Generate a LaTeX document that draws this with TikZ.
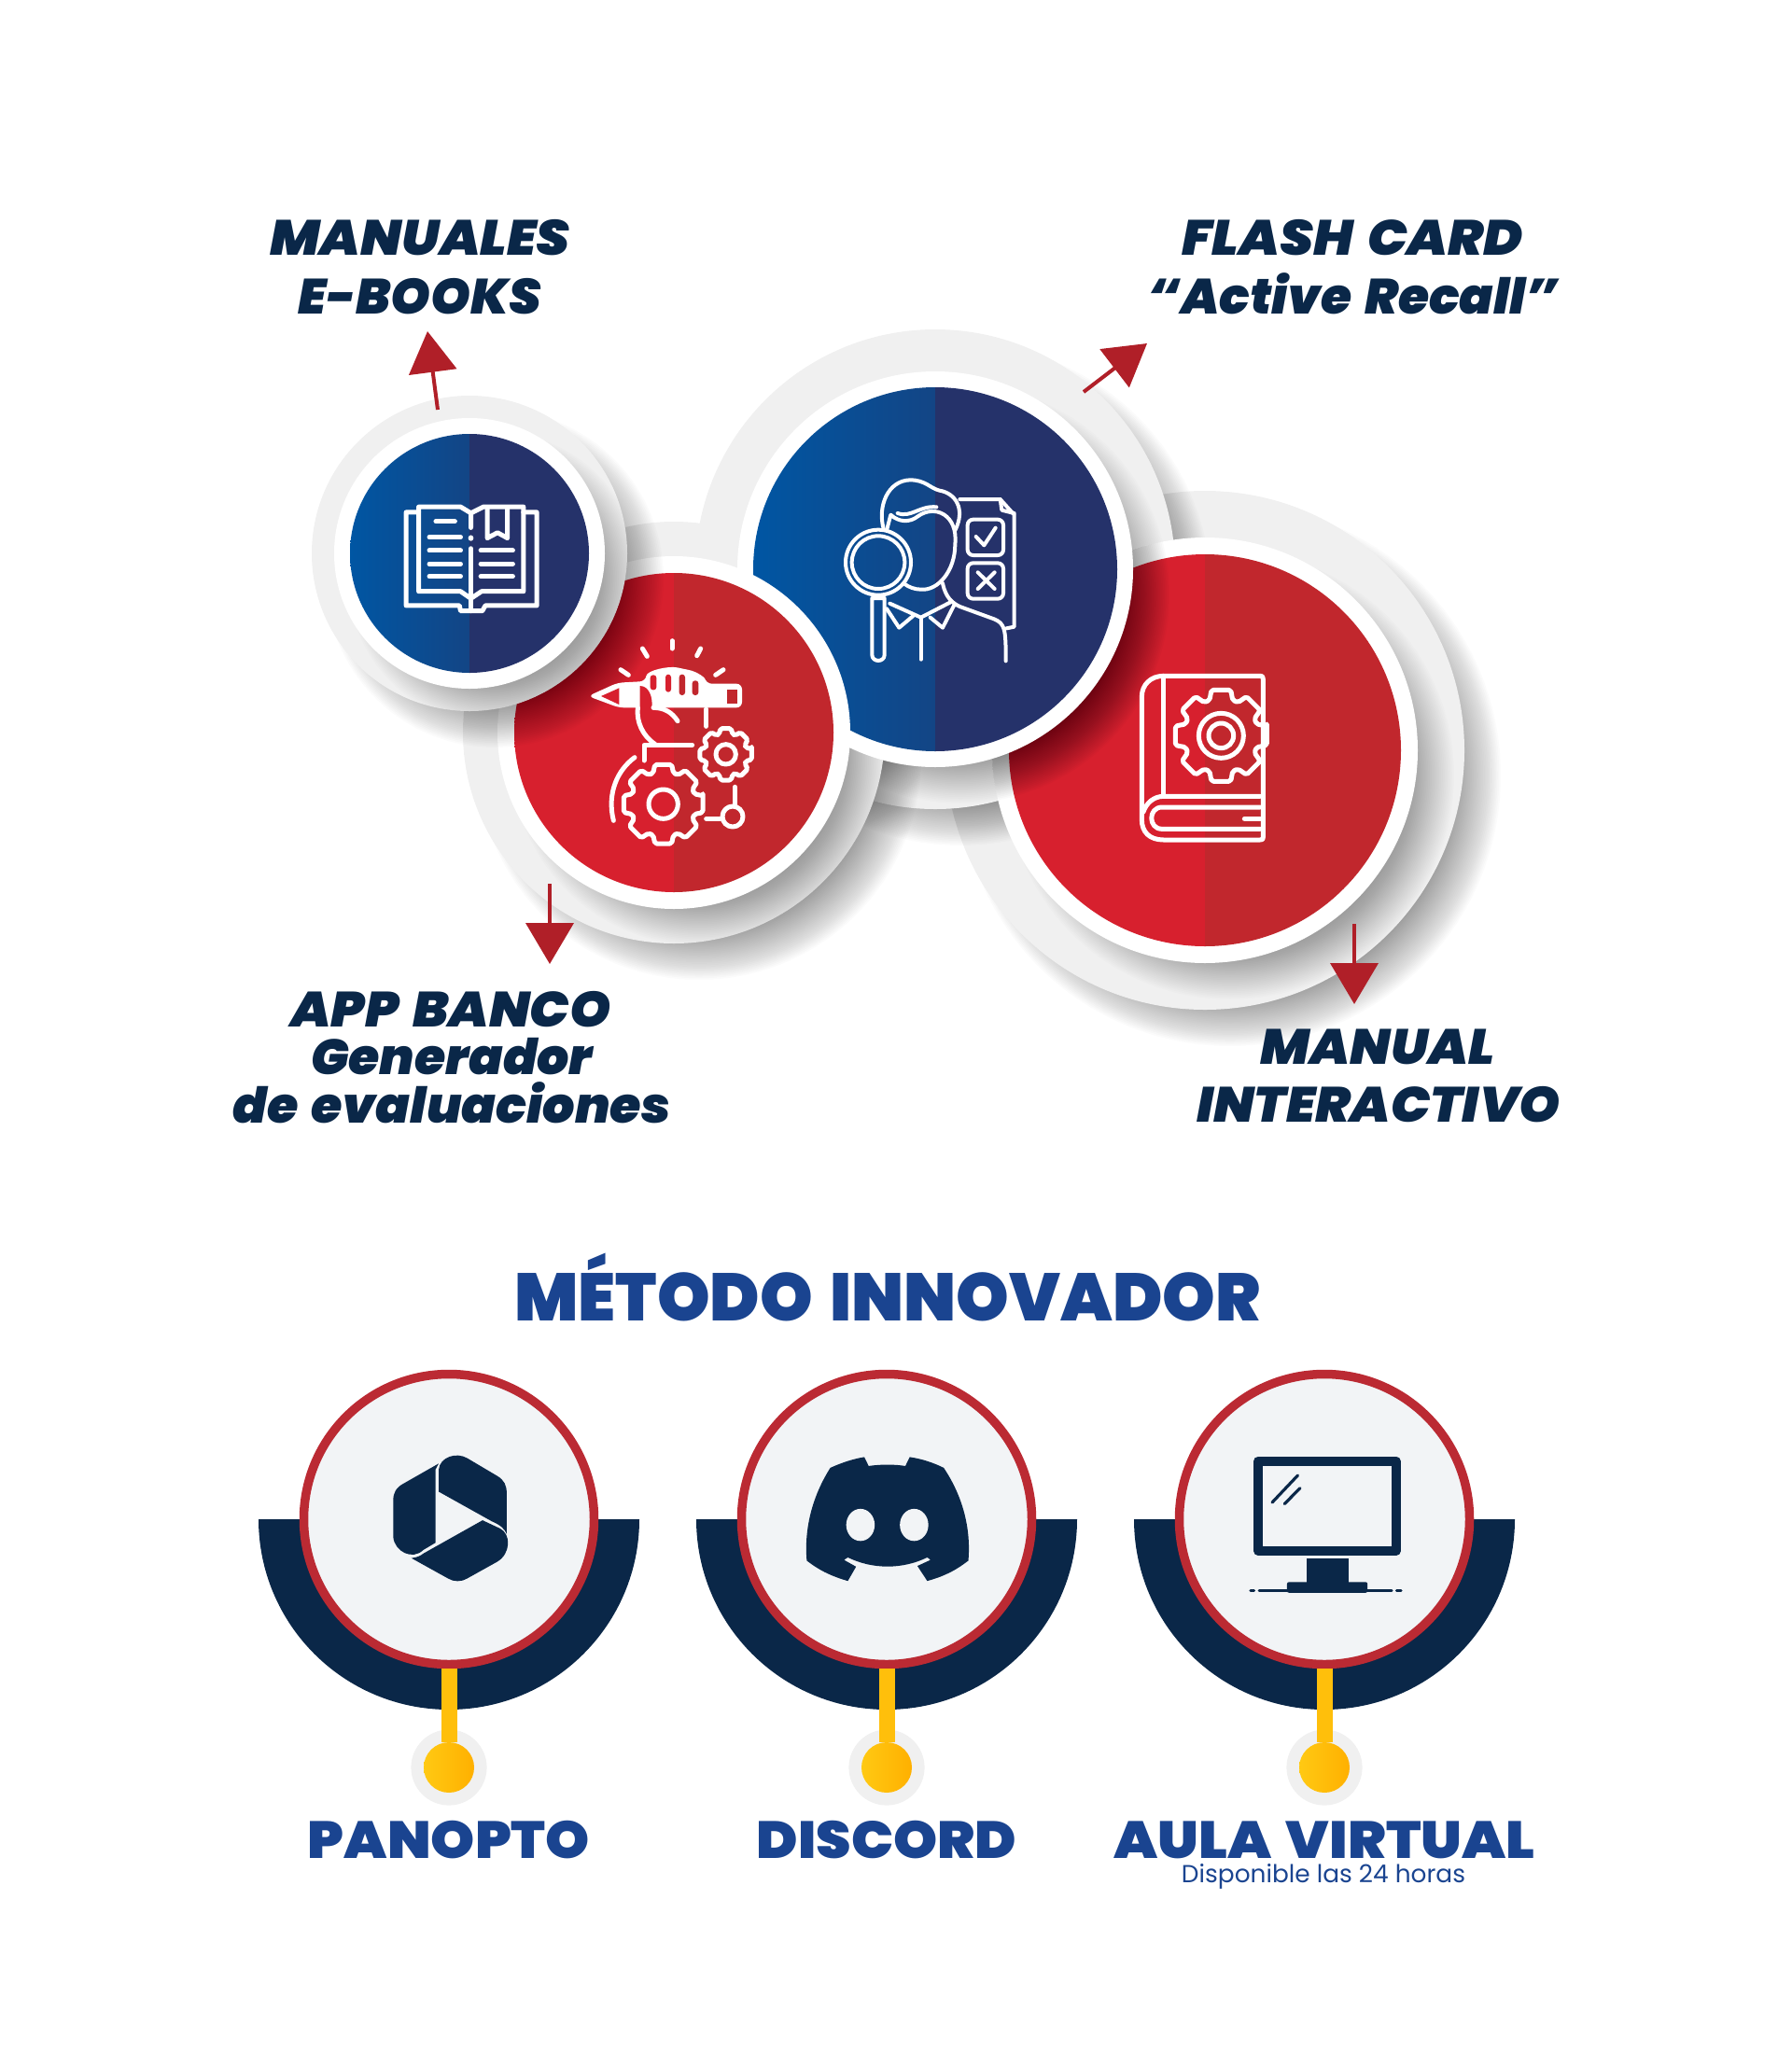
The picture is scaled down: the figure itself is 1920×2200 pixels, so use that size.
\documentclass[tikz,border=0pt]{standalone}
\usepackage{fontspec}
\usetikzlibrary{arrows.meta}
\newfontfamily\blackfont{Poppins}[UprightFont={* Black},ItalicFont={* Black Italic},WordSpace=1.5]
\newfontfamily\plainfont{Poppins}
\definecolor{navy}{HTML}{0A2748}
\definecolor{headblue}{HTML}{1A4490}
\definecolor{arrowred}{HTML}{B01F28}
\definecolor{ringred}{HTML}{BB2A33}
\definecolor{ringgrey}{HTML}{F0F0F0}
\definecolor{lensgrey}{HTML}{F2F4F6}
\definecolor{redleft}{HTML}{D7202E}
\definecolor{redright}{HTML}{C1272D}
\definecolor{blueleft}{HTML}{0056A3}
\definecolor{bluemid}{HTML}{134585}
\definecolor{blueright}{HTML}{25326A}
\definecolor{goldleft}{HTML}{FFC913}
\definecolor{goldright}{HTML}{FFB000}
\definecolor{goldstem}{HTML}{FFBF0B}
\tikzset{
  toplabel/.style={anchor=base,text=navy,font=\blackfont\itshape\fontsize{26.5}{30}\selectfont},
  toollabel/.style={anchor=base,text=headblue,font=\blackfont\fontsize{28}{32}\selectfont},
  redarrow/.style={draw=arrowred,line width=2pt,-{Triangle[length=22pt,width=25.5pt]}},
  iconline/.style={draw=white,line width=2.5pt,line cap=round,line join=round},
  lens/.style={circle,draw=ringred,line width=4.75pt,fill=lensgrey,minimum size=155.5pt,inner sep=0pt},
  halo/.style={circle,fill=ringgrey,minimum size=40.6pt,inner sep=0pt},
  dot/.style={circle,left color=goldleft,right color=goldright,minimum size=27pt,inner sep=0pt},
  stem/.style={draw=goldstem,line width=8.5pt}
}
% soft shadow: x, y, radius, strength of one step
\newcommand{\softshadow}[4]{\foreach \k in {1,...,30}{\fill[black,opacity=#4] (#1+27,#2+27) circle ({#3+13.7-1.73*\k});}}
% grey ring with its shadows: x, y, grey radius, white radius
\newcommand{\ringback}[4]{%
  \softshadow{#1}{#2}{#3}{.015}
  \fill[ringgrey] (#1,#2) circle (#3);
  \begin{scope}
    \clip (#1,#2) circle (#3);
    \softshadow{#1}{#2}{#4}{.011}
  \end{scope}}
% white ring and split disc: x, y, white radius, disc radius, three colours
\newcommand{\ringfront}[7]{%
  \fill[white] (#1,#2) circle (#3);
  \shade[left color=#5,right color=#6] (#1,#2-#4) arc (270:90:#4) -- cycle;
  \fill[#7] (#1,#2-#4) arc (-90:90:#4) -- cycle;}
% gear outline: centre, outer radius, inner radius
\newcommand{\icongear}[3]{%
  \begin{scope}[shift={(#1)}]
    \draw[iconline,rounded corners=1pt] (-12:#2) \foreach \a in {0,45,...,315}{ -- (\a+12:#2) -- (\a+18:#3) -- (\a+27:#3) -- (\a+33:#2)} -- cycle;
  \end{scope}}
\begin{document}
\begin{tikzpicture}[x=.5pt,y=-.5pt]
  \useasboundingbox (0,0) rectangle (1920,2200);

  % circles, back to front
  \ringback{1291}{804}{278}{228}
  \ringback{1002}{610}{257}{212}
  \ringback{722}{785}{226}{189}
  \ringfront{1291}{804}{228}{210}{redleft}{redleft}{redright}
  \begin{scope}
    \clip (1291,804) circle (228);
    \softshadow{1002}{610}{212}{.02}
  \end{scope}
  \ringfront{1002}{610}{212}{195}{blueleft}{bluemid}{blueright}
  \ringfront{722}{785}{189}{171}{redleft}{redleft}{redright}
  \ringback{503}{593}{169}{145}
  \ringfront{503}{593}{145}{128}{blueleft}{bluemid}{blueright}

  % open book icon
  \begin{scope}[shift={(320,340)},x=.2041pt,y=-.2232pt]
    \draw[iconline] (315,468) -- (282,468) -- (282,692) -- (422,692) -- (425,705) -- (482,705) -- (490,692) -- (625,692) -- (625,468) -- (590,468);
    \draw[iconline] (452,505) -- (452,470) -- (425,455) -- (315,455) -- (315,658) -- (425,658) -- (452,675) -- (480,658) -- (590,658) -- (590,455) -- (485,455) -- (452,470);
    \draw[iconline] (452,555) -- (452,705);
    \fill[white] (452,530) circle (7);
    \draw[iconline] (360,490) -- (410,490);
    \foreach \yy in {528,560,592,622} \draw[iconline] (343,\yy) -- (425,\yy);
    \foreach \yy in {560,592,622} \draw[iconline] (478,\yy) -- (562,\yy);
    \draw[iconline] (495,460) -- (495,530) -- (522,517) -- (548,530) -- (548,460);
  \end{scope}

  % pen and gears icon
  \begin{scope}[shift={(620,680)},x=.16667pt,y=-.16667pt]
    \foreach \xa/\ya/\xb/\yb in {300/20/300/45,205/45/220/70,392/45/380/68,135/113/160/130,465/113/440/130}
      \draw[iconline] (\xa,\ya) -- (\xb,\yb);
    \fill[white,rounded corners=3pt] (30,198) -- (125,155) -- (215,150) .. controls (220,115) and (290,100) .. (335,110) .. controls (385,120) and (405,140) .. (410,158) -- (525,158) -- (525,235) -- (130,235) -- cycle;
    \fill[redleft] (72,198) -- (130,172) -- (130,225) -- cycle;
    \fill[redleft] (197,165) .. controls (225,165) and (240,200) .. (235,240) -- (197,240) -- cycle;
    \fill[redright] (478,178) rectangle (510,222);
    \fill[redleft,rounded corners=1.5pt] (230,130) rectangle (250,178);
    \fill[redleft,rounded corners=1.5pt] (279,128) rectangle (297,185);
    \fill[redright,rounded corners=1.5pt] (323,128) rectangle (342,195);
    \fill[redright,rounded corners=1.5pt] (365,148) rectangle (385,195);
    \draw[iconline] (190,235) .. controls (185,280) and (205,325) .. (245,352);
    \draw[iconline] (240,235) .. controls (275,235) and (300,250) .. (318,278);
    \draw[iconline] (210,405) -- (210,355) -- (365,355);
    \draw[iconline] (410,240) -- (410,295);
    \icongear{473,385}{85}{68}
    \draw[iconline] (473,385) circle (32);
    \icongear{272,545}{130}{105}
    \draw[iconline] (272,545) circle (47);
    \draw[iconline] (180,395) .. controls (125,435) and (90,510) .. (112,598);
    \draw[iconline] (410,592) -- (455,592);
    \draw[iconline] (495,585) circle (33);
    \draw[iconline] (502,490) -- (502,545);
  \end{scope}

  % person with magnifier icon
  \begin{scope}[shift={(895,505)},x=.16667pt,y=-.16667pt,iconline/.append style={line width=2pt}]
    \draw[iconline] (155,185) .. controls (135,110) and (170,30) .. (240,28) .. controls (290,28) and (305,55) .. (335,62) .. controls (385,70) and (420,120) .. (385,190);
    \draw[iconline] (165,190) -- (178,140) .. controls (205,165) and (240,165) .. (265,145) .. controls (320,105) and (395,140) .. (385,235) .. controls (385,320) and (330,385) .. (275,380) .. controls (255,380) and (235,372) .. (222,362);
    \draw[iconline] (200,135) .. controls (245,150) and (270,110) .. (325,115);
    \draw[iconline] (138,293) circle (105);
    \draw[iconline] (138,293) circle (85);
    \draw[iconline] (118,408) -- (118,590) .. controls (118,615) and (158,615) .. (158,590) -- (158,408) -- cycle;
    \draw[iconline] (175,425) -- (275,470) -- (372,420);
    \draw[iconline] (165,442) -- (205,503) -- (250,465);
    \draw[iconline] (382,430) -- (345,503) -- (305,470);
    \draw[iconline] (275,470) -- (275,605);
    \draw[iconline] (345,360) .. controls (355,410) and (380,425) .. (400,435) -- (510,475) .. controls (545,490) and (548,505) .. (548,610);
    \draw[iconline] (400,90) -- (530,90) -- (575,140) -- (575,500) -- (550,505);
    \draw[iconline] (530,90) -- (535,125) -- (575,135);
    \draw[iconline,rounded corners=3pt] (425,155) rectangle (540,270);
    \draw[iconline,rounded corners=3pt] (425,295) rectangle (540,410);
    \draw[iconline] (452,210) -- (478,238) -- (515,182);
    \draw[iconline] (458,325) -- (512,378) (512,325) -- (458,378);
  \end{scope}

  % manual with gear icon
  \begin{scope}[shift={(1205,710)},x=.16667pt,y=-.16667pt]
    \draw[iconline] (125,43) -- (435,43) .. controls (445,43) and (445,50) .. (445,55) -- (445,560) .. controls (445,570) and (440,570) .. (435,570) -- (125,570) .. controls (80,570) and (55,545) .. (55,505) -- (55,110) .. controls (55,70) and (85,43) .. (125,43);
    \draw[iconline] (125,43) -- (125,430);
    \draw[iconline] (60,480) .. controls (70,450) and (95,430) .. (125,430) -- (435,430);
    \draw[iconline] (435,465) -- (120,465) .. controls (75,465) and (75,535) .. (120,535) -- (435,535);
    \draw[iconline] (385,502) -- (435,502);
    \icongear{310,235}{150}{120}
    \draw[iconline] (310,235) circle (72);
    \draw[iconline] (310,235) circle (40);
  \end{scope}

  % arrows
  \coordinate (bookfoot) at (469,439);
  \coordinate (booktip) at (458,355);
  \coordinate (penfoot) at (589,947);
  \coordinate (pentip) at (589,1033);
  \coordinate (cardfoot) at (1161,420);
  \coordinate (cardtip) at (1229,368);
  \coordinate (manualfoot) at (1451,990);
  \coordinate (manualtip) at (1451,1076);
  \draw[redarrow] (bookfoot) -- (booktip);
  \draw[redarrow] (penfoot) -- (pentip);
  \draw[redarrow] (cardfoot) -- (cardtip);
  \draw[redarrow] (manualfoot) -- (manualtip);

  % labels of the circles
  \node[toplabel,xscale=1.065] (manuales) at (450,273) {MANUALES};
  \node[toplabel,xscale=1.026] (ebooks) at (450,336) {E-BOOKS};
  \node[toplabel,xscale=1.07] (flash) at (1449,273) {FLASH CARD};
  \node[toplabel,xscale=1.01] (recall) at (1450,336) {“Active Recall”};
  \node[toplabel,xscale=1.06] (banco) at (483,1100) {APP BANCO};
  \node[toplabel,xscale=1.015] (generador) at (484,1151) {Generador};
  \node[toplabel,xscale=1.02] (evaluaciones) at (484,1203) {de evaluaciones};
  \node[toplabel,xscale=1.05] (manual) at (1476,1140) {MANUAL};
  \node[toplabel,xscale=1.057] (interactivo) at (1477,1202) {INTERACTIVO};

  \node[toollabel,font=\blackfont\fontsize{36}{40}\selectfont] (metodo) at (951,1415) {MÉTODO INNOVADOR};

  % the three tools
  \foreach \cx/\tool/\wide/\toolname in {481/panopto/1.07/PANOPTO,950/discord/1.07/DISCORD,1419/aula/1.09/AULA VIRTUAL}{
    \fill[navy] (\cx-204,1628) arc (180:0:204) -- cycle;
    \node[halo] (halo\tool) at (\cx,1894) {};
    \node[lens] (lens\tool) at (\cx,1628) {};
    \node[dot] (dot\tool) at (\cx,1894) {};
    \draw[stem] (lens\tool.south) -- (dot\tool.north);
    \node[toollabel,xscale=\wide] (name\tool) at (\cx,1991) {\toolname};
  }
  \node[anchor=base,text=headblue,font=\plainfont\fontsize{13.2}{15}\selectfont] (disponible) at (1418,2017) {Disponible las 24 horas};

  % panopto logo
  \begin{scope}[shift={(260,1460)},x=.2934pt,y=-.1913pt]
    \fill[navy] (358,283) -- (295,338) .. controls (280,350) and (275,365) .. (275,385) -- (275,490) .. controls (278,530) and (310,555) .. (330,525) -- (352,505) -- (352,300) -- cycle;
    \fill[navy] (358,300) .. controls (360,265) and (390,250) .. (410,268) -- (465,318) .. controls (478,330) and (482,345) .. (482,365) -- (482,480) .. controls (478,465) and (470,455) .. (455,445) -- (358,362) -- cycle;
    \fill[navy] (438,442) -- (330,535) .. controls (325,542) and (318,546) .. (308,548) -- (375,605) .. controls (385,615) and (400,615) .. (410,605) -- (465,558) .. controls (490,535) and (490,480) .. (470,465) -- cycle;
  \end{scope}

  % discord logo
  \begin{scope}[shift={(260,1460)},x=.2934pt,y=-.1913pt]
    \fill[navy] (1073,295) .. controls (1095,280) and (1115,270) .. (1135,265) -- (1143,290) .. controls (1165,285) and (1190,285) .. (1210,290) -- (1218,265) .. controls (1240,270) and (1260,280) .. (1280,295) .. controls (1315,375) and (1330,465) .. (1325,555) .. controls (1300,585) and (1278,600) .. (1250,612) -- (1232,570) -- (1256,553) -- (1250,546) .. controls (1205,580) and (1150,580) .. (1105,546) -- (1098,553) -- (1120,572) -- (1105,612) .. controls (1078,600) and (1055,585) .. (1030,555) .. controls (1025,465) and (1040,375) .. (1073,295) -- cycle;
    \fill[lensgrey] (1128,455) ellipse (26 and 45);
    \fill[lensgrey] (1226,455) ellipse (26 and 45);
  \end{scope}

  % monitor
  \begin{scope}[shift={(1180,1460)},x=.1658pt,y=-.1913pt]
    \draw[navy,line width=5pt,line join=round] (507,276) rectangle (952,528);
    \draw[navy,line width=1.6pt,line cap=round] (552,392) -- (635,316) (592,396) -- (642,352);
    \fill[navy] (663,550) rectangle (798,620);
    \fill[navy,rounded corners=1pt] (600,645) -- (600,615) -- (860,615) -- (860,645) -- cycle;
    \draw[navy,line width=1.6pt,line cap=round] (510,640) -- (938,640) (482,640) -- (493,640) (954,640) -- (968,640);
  \end{scope}
\end{tikzpicture}
\end{document}
